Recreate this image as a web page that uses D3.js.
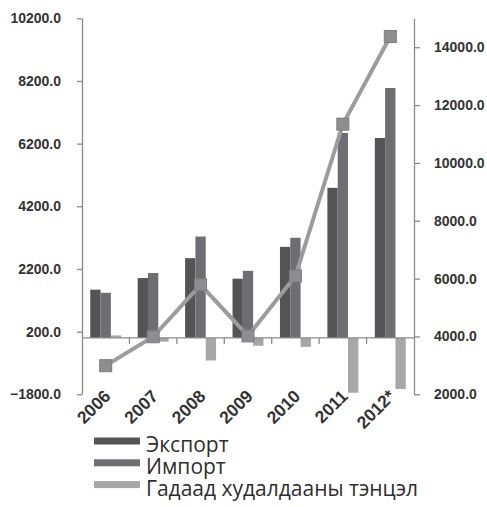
<!DOCTYPE html>
<html><head><meta charset="utf-8">
<script src="https://cdn.jsdelivr.net/npm/d3@7"></script>
<style>body{margin:0;background:#fff;}svg{display:block;}</style>
</head><body>
<svg id="c" width="487" height="507"></svg>
<script>
const years = ["2006","2007","2008","2009","2010","2011","2012*"];
const exportVals = [1540, 1910, 2545, 1890, 2905, 4790, 6380];
const importVals = [1440, 2070, 3235, 2140, 3195, 6540, 7975];
const balanceVals = [80, -120, -720, -250, -285, -1750, -1630];
const turnoverVals = [2990, 3990, 5785, 4020, 6090, 11340, 14370];
const leftTicks = [-1800, 200, 2200, 4200, 6200, 8200, 10200];
const rightTicks = [2000, 4000, 6000, 8000, 10000, 12000, 14000];
const seriesNames = ["Экспорт", "Импорт", "Гадаад худалдааны тэнцэл"];
const seriesColors = ["#545457", "#6e6e72", "#a7a7a9"];

const svg = d3.select("#c");
const L = 82, R = 414, T = 18.3, B = 394.3;
const yL = d3.scaleLinear().domain([-1800, 10200]).range([B, T]);
const yR = d3.scaleLinear().domain([2000, 15000]).range([B, T]);
const x0 = d3.scaleBand().domain(years).range([L, R]).padding(0);
const x1 = d3.scaleBand().domain([0,1,2]).range([0, x0.bandwidth()]).paddingInner(0).paddingOuter(0.8);

const data = years.map((y,i)=>({year:y, vals:[exportVals[i], importVals[i], balanceVals[i]], t:turnoverVals[i]}));

// bars
const g = svg.append("g");
data.forEach(d=>{
  d.vals.forEach((v,k)=>{
    g.append("rect")
      .attr("x", x0(d.year)+x1(k))
      .attr("width", x1.bandwidth())
      .attr("y", Math.min(yL(v), yL(0)))
      .attr("height", Math.abs(yL(v)-yL(0)))
      .attr("fill", seriesColors[k]);
  });
});

const axisColor = "#8a8a8a";
const fontNum = "'Liberation Sans', Arial, sans-serif";
// left axis
const la = svg.append("g").attr("transform", `translate(${L},0)`)
  .call(d3.axisLeft(yL).tickValues(leftTicks).tickSize(5).tickSizeOuter(0).tickPadding(16).tickFormat(d3.format(".1f")));
la.select(".domain").attr("stroke", axisColor).attr("stroke-width", 1.3);
la.selectAll(".tick line").attr("stroke", axisColor).attr("stroke-width", 1.3);
la.selectAll("text").attr("font-family", fontNum).attr("font-size", 14).attr("font-weight", "bold").attr("fill", "#333");

// right axis
const ra = svg.append("g").attr("transform", `translate(${R},0)`)
  .call(d3.axisRight(yR).tickValues(rightTicks).tickSize(6).tickSizeOuter(0).tickPadding(14).tickFormat(d3.format(".1f")));
ra.select(".domain").attr("stroke", axisColor).attr("stroke-width", 1.3);
ra.selectAll(".tick line").attr("stroke", axisColor).attr("stroke-width", 1.3);
ra.selectAll("text").attr("font-family", fontNum).attr("font-size", 14).attr("font-weight", "bold").attr("fill", "#333");

// category axis at zero
const y0 = yL(0);
svg.append("line").attr("x1", L).attr("x2", R).attr("y1", y0).attr("y2", y0).attr("stroke", axisColor).attr("stroke-width", 1.3);
years.slice(1).forEach(y=>{
  svg.append("line").attr("x1", x0(y)).attr("x2", x0(y)).attr("y1", y0).attr("y2", y0+6).attr("stroke", axisColor).attr("stroke-width", 1.3);
});
// year labels (low position)
years.forEach(y=>{
  const cx = x0(y) + x0.bandwidth()/2;
  svg.append("text").attr("transform", `translate(${cx+6},${B+3}) rotate(-45)`)
    .attr("text-anchor","end")
    .attr("font-family", fontNum).attr("font-size", 17.5).attr("font-weight","bold").attr("fill","#333")
    .text(y);
});

// turnover line
const xc = y => x0(y) + x0.bandwidth()/2;
svg.append("path").datum(data)
  .attr("d", d3.line().x(d=>xc(d.year)).y(d=>yR(d.t)))
  .attr("fill","none").attr("stroke","#9c9c9e").attr("stroke-width",4);
svg.selectAll(".mk").data(data).enter().append("rect")
  .attr("x", d=>xc(d.year)-6).attr("y", d=>yR(d.t)-6).attr("width",12).attr("height",12)
  .attr("fill","#8e8e90").attr("stroke","#7c7c7e").attr("stroke-width",1);

// legend
const lg = svg.append("g");
seriesNames.forEach((n,i)=>{
  const yy = 441 + i*21.8;
  lg.append("rect").attr("x",94).attr("y",yy-3.5).attr("width",46).attr("height",7).attr("fill",seriesColors[i]);
  lg.append("text").attr("x",146).attr("y",yy+11).attr("font-family","'Open Sans', sans-serif").attr("font-size",21).attr("fill","#2e2e2e").text(n);
});
</script>
</body></html>
